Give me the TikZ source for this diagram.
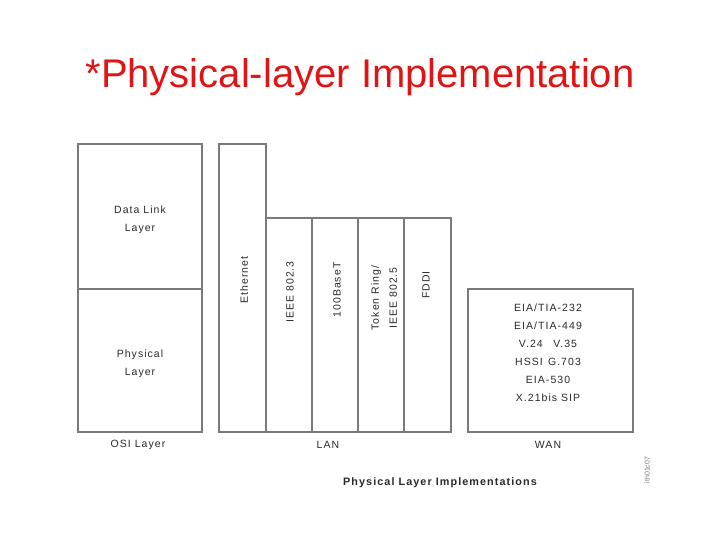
\documentclass[tikz,border=0pt]{standalone}
\usepackage{fontspec}
\setmainfont{Liberation Sans}
\newfontfamily\diagfont[LetterSpace=10]{Liberation Sans}
\usepackage{xcolor}
\usetikzlibrary{positioning}
\definecolor{bg}{HTML}{FFFFFF}
\definecolor{titlered}{HTML}{E01414}
\definecolor{rule}{HTML}{7A7A7A}
\definecolor{ink}{HTML}{2A2A2A}
\tikzset{
  box/.style={draw=rule, line width=1.3pt},
  lab/.style={text=ink, font=\diagfont\fontsize{10.5}{18}\selectfont, inner sep=0pt, align=center},
  vlab/.style={lab, rotate=90},
  caption/.style={lab, font=\diagfont\bfseries\fontsize{10.8}{12}\selectfont},
  figid/.style={text=rule, font=\fontsize{7}{8}\selectfont, rotate=90, inner sep=0pt}
}

\begin{document}
\begin{tikzpicture}[x=1pt,y=-1pt]
  \useasboundingbox[fill=bg] (0,0) rectangle (720,540);

  \node[text=titlered, font=\fontsize{40}{48}\selectfont, anchor=base] (title) at (360,88) {*Physical-layer Implementation};

  % OSI column
  \draw[box] (78,144) rectangle (202,432);
  \draw[box] (78,289) -- (202,289);
  \node[lab] (dll) at (140,220) {Data Link\\Layer};
  \node[lab] (phy) at (140,364) {Physical\\Layer};
  \node[lab] (osi) at (138,445) {OSI Layer};

  % LAN columns
  \draw[box] (219,144) rectangle (266,432);
  \draw[box] (266,218) rectangle (451,432);
  \foreach \x in {312,358,404}
    \draw[box] (\x,218) -- (\x,432);
  \node[vlab] (eth) at (244,280) {Ethernet};
  \node[vlab] (ieee3) at (290,292) {IEEE 802.3};
  \node[vlab] (fast) at (337,290) {100BaseT};
  \node[vlab] (token) at (384,298) {Token Ring/\\IEEE 802.5};
  \node[vlab] (fddi) at (426,285) {FDDI};
  \node[lab] (lan) at (328,445) {LAN};

  % WAN column
  \draw[box] (468,289) rectangle (633,432);
  \node[lab] (wanstd) at (548,353) {EIA/TIA-232\\EIA/TIA-449\\V.24\quad V.35\\HSSI\enspace G.703\\EIA-530\\X.21bis SIP};
  \node[lab] (wan) at (548,445) {WAN};

  \node[caption] (cap) at (440,483) {Physical Layer Implementations};
  \node[figid] (fig) at (647,470) {ith01c07};
\end{tikzpicture}
\end{document}
